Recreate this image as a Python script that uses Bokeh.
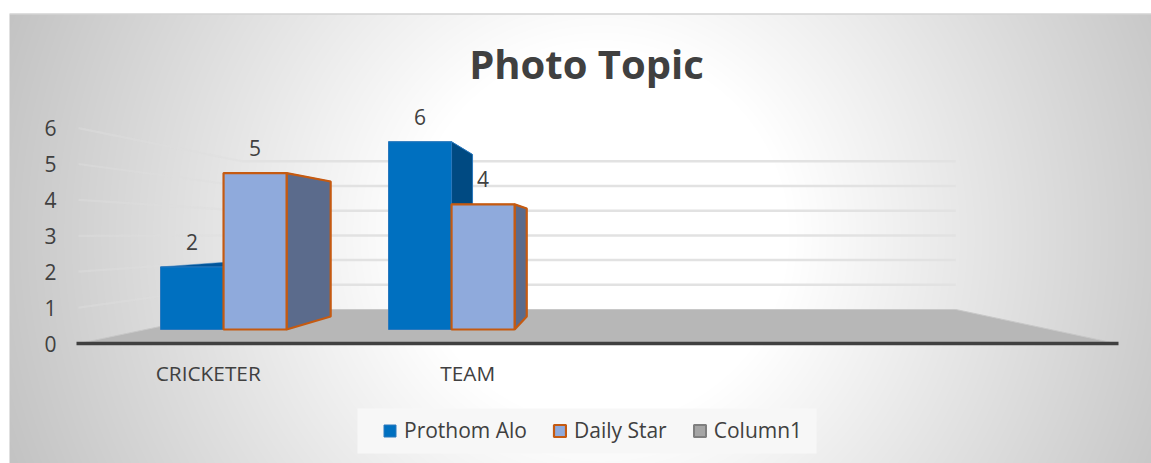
import math
import numpy as np
from bokeh.embed import file_html
from bokeh.resources import INLINE
from bokeh.plotting import figure
from bokeh.models import (Range1d, LinearAxis, FixedTicker, Legend, LegendItem,
                          Label, ColumnDataSource)
from bokeh.core.properties import value

title_text = "Photo Topic"
categories = ["CRICKETER", "TEAM"]
prothom_alo = [2, 6]
daily_star = [5, 4]
column1 = [float("nan"), float("nan")]
y_ticks = [0, 1, 2, 3, 4, 5, 6]

FONT = "Open Sans"
TXT = "#404040"

W, H = 1151, 463
PXX0, PXU = 78.0, 259.5   # window px of category 0 and px per category
PXY0, PYU = 343.0, 35.9   # window px of value 0 and px per unit
X_V = (601 - PXX0) / PXU  # vanishing point
Y_V = (PXY0 - 234) / PYU
SX_FRONT, SX_BACK, S_WALL_X = 0.8786, 0.7556, 0.688
SY_FRONT, SY_BACK, S_WALL_Y = 0.8716, 0.752, 0.688
BAR_W, BAR_OFF = 0.2765, 0.0812

def px(x, s):
    return X_V + s * (x - X_V)

def py(v, s):
    return Y_V + s * (v - Y_V)

def wx(x):
    return (x - PXX0) / PXU

def wy(y):
    return (PXY0 - y) / PYU

p = figure(width=W, height=H, output_backend="svg", toolbar_location=None,
           min_border=0, outline_line_color=None, border_fill_color="white",
           x_range=Range1d(wx(0), wx(W)), y_range=Range1d(wy(H), wy(0)),
           x_axis_type=None, y_axis_type=None)
p.grid.visible = False

# background
xx, yy = np.meshgrid(np.arange(9, 1151), np.arange(14, 463))
d = np.sqrt((xx - 600.0) ** 2 + (yy - 235.0) ** 2)
g = np.clip(255 - np.clip(d - 189, 0, None) * 0.135, 0, 255).astype(np.uint32)
img = (255 << 24) | (g << 16) | (g << 8) | g
p.image_rgba(image=[img[::-1]], x=wx(9), y=wy(463), dw=(1151 - 9) / PXU, dh=(463 - 14) / PYU)
p.segment(x0=[wx(9)], x1=[wx(1151)], y0=[wy(13.5)], y1=[wy(13.5)],
          line_color="#bdbdbd", line_width=1)

# walls
n_cat = 4
for v in y_ticks[1:]:
    p.line([0, px(0, S_WALL_X)], [v, py(v, S_WALL_Y)],
           line_color="#dedede", line_width=2.2, line_alpha=0.45)
    p.line([px(0, S_WALL_X), px(n_cat, S_WALL_X)], [py(v, S_WALL_Y), py(v, S_WALL_Y)],
           line_color="#e2e2e2", line_width=2.5)

# floor
p.patch([0, n_cat, px(n_cat, S_WALL_X), px(0, S_WALL_X)],
        [0, 0, py(0, S_WALL_Y), py(0, S_WALL_Y)],
        fill_color="#b7b7b7", line_color="#c8c8c8", line_width=1)

def box(vals, idx, front, stroke, sw, side, top):
    fx, fy, sx, sy, tx, ty = [], [], [], [], [], []
    for i, v in enumerate(vals):
        a = i + BAR_OFF + idx * BAR_W
        b = a + BAR_W
        if math.isnan(v):   # no bar for a blank cell
            a = b = v
        x0f, x1f = px(a, SX_FRONT), px(b, SX_FRONT)
        x0b, x1b = px(a, SX_BACK), px(b, SX_BACK)
        base_f = py(0, SY_FRONT) if not math.isnan(v) else v
        base_b = py(0, SY_BACK) if not math.isnan(v) else v
        top_f, top_b = py(v, SY_FRONT), py(v, SY_BACK)
        fx.append([x0f, x1f, x1f, x0f])
        fy.append([base_f, base_f, top_f, top_f])
        sx.append([x1f, x1b, x1b, x1f])
        sy.append([base_f, base_b, top_b, top_f])
        tx.append([x0f, x1f, x1b, x0b])
        ty.append([top_f, top_f, top_b, top_b])
    p.patches(tx, ty, fill_color=top, line_color=stroke, line_width=sw * 0.5)
    p.patches(sx, sy, fill_color=side, line_color=stroke, line_width=sw)
    return p.patches(fx, fy, fill_color=front, line_color=stroke, line_width=sw)

r1 = box(prothom_alo, 0, "#0070C0", "#2a78bd", 1, "#004A82", "#00559a")
r2 = box(daily_star, 1, "#8FAADC", "#C55A11", 2.2, "#5B6B8C", "#5B6B8C")
r3 = box(column1, 2, "#A5A5A5", "#7F7F7F", 2, "#7b7b7b", "#7b7b7b")

# data labels
for idx, vals in enumerate([prothom_alo, daily_star]):
    cx = [px(i + BAR_OFF + (idx + 0.5) * BAR_W, SX_FRONT) for i in range(len(vals))]
    cy = [py(v, SY_FRONT) for v in vals]
    src = ColumnDataSource(dict(x=cx, y=cy, t=[str(v) for v in vals]))
    p.text("x", "y", "t", source=src, text_font=value(FONT), text_font_size="21px",
           text_color=TXT, text_align="center", text_baseline="middle", y_offset=-25)

# axes
xa = LinearAxis(fixed_location=0, ticker=FixedTicker(ticks=[i + 0.5 for i in range(len(categories))]),
                major_label_overrides={i + 0.5: c for i, c in enumerate(categories)},
                major_tick_line_color=None, minor_tick_line_color=None,
                axis_line_color="#404040", axis_line_width=3.5, major_label_standoff=9,
                major_label_text_font=FONT, major_label_text_font_size="20.8px",
                major_label_text_color=TXT)
xa.bounds = (-0.007, n_cat + 0.007)
p.add_layout(xa, "below")

ya = LinearAxis(fixed_location=wx(65), ticker=FixedTicker(ticks=y_ticks),
                major_tick_line_color=None, minor_tick_line_color=None, axis_line_color=None,
                major_label_standoff=3, major_label_text_font=FONT,
                major_label_text_font_size="21px", major_label_text_color=TXT)
p.add_layout(ya, "left")

# title
p.add_layout(Label(x=586, y=H - 63, x_units="screen", y_units="screen",
                   text=title_text, text_font=FONT, text_font_size="40px",
                   text_font_style="bold", text_color=TXT,
                   text_align="center", text_baseline="middle"))

# legend backdrop and legend
p.quad(left=[wx(357)], right=[wx(816)], bottom=[wy(453)], top=[wy(408)],
       fill_color="#f7f7f7", line_color=None)
legend = Legend(items=[LegendItem(label="Prothom Alo", renderers=[r1]),
                       LegendItem(label="Daily Star", renderers=[r2]),
                       LegendItem(label="Column1", renderers=[r3])],
                orientation="horizontal", location=(382, 19), margin=0,
                padding=10, spacing=25, glyph_width=15, glyph_height=15,
                label_standoff=7, label_text_font=FONT, label_text_font_size="21px",
                label_text_color=TXT, background_fill_alpha=0, border_line_color=None)
p.add_layout(legend, "center")

open("out.html", "w").write(file_html(p, INLINE))
